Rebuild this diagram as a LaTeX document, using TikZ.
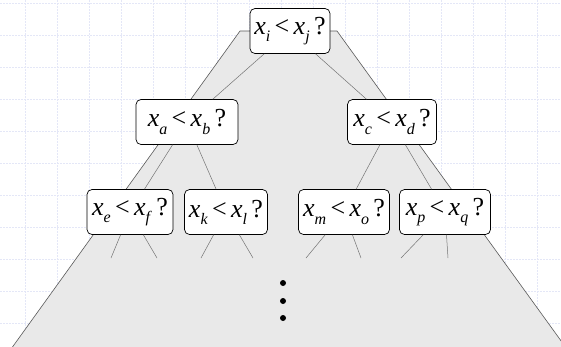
\documentclass[tikz,border=0pt]{standalone}
\usepackage{fontspec}
\setmainfont{Liberation Serif}
\definecolor{gridblue}{RGB}{228,231,247}
\definecolor{treegray}{RGB}{233,233,233}
\newcommand{\xs}[1]{\textit{x}\raisebox{-0.6ex}{\fontsize{16}{16}\selectfont\textit{#1}}}
\newcommand{\cmp}[2]{\xs{#1}\,<\,\xs{#2}\,?}

\begin{document}
\begin{tikzpicture}[x=1pt,y=-1pt,
  gridline/.style={draw=gridblue,line width=0.5pt,dash pattern=on 2pt off 1pt},
  test/.style={draw=black,fill=white,rounded corners=5pt,line width=0.7pt,minimum height=45pt,inner xsep=1pt,font=\fontsize{26}{26}\selectfont},
  branch/.style={draw=gray!90!black,line width=0.5pt}]
\useasboundingbox (0,0) rectangle (561,346);
\begin{scope}
\clip (0,0) rectangle (561,346);
% background grid
\foreach \gx in {25,57,...,537} \draw[gridline] (\gx,0) -- (\gx,346);
\foreach \gy in {3,35,...,323} \draw[gridline] (0,\gy) -- (561,\gy);
% the whole tree
\draw[fill=treegray,draw=gray!70!black,line width=0.6pt] (240,31) -- (6,356) -- (572,356) -- (337,31) -- cycle;
\end{scope}

\node[test,minimum width=80pt] (ij) at (290,31) {\cmp{i}{j}};
\node[test,minimum width=102pt] (ab) at (187,122) {\cmp{a}{b}};
\node[test,minimum width=89pt] (cd) at (392,122) {\cmp{c}{d}};
\node[test,minimum width=86pt] (ef) at (130,212) {\cmp{e}{f}};
\node[test,minimum width=83pt] (kl) at (226,212) {\cmp{k}{l}};
\node[test,minimum width=91pt] (mo) at (344,212) {\cmp{m}{o}};
\node[test,minimum width=91pt] (pq) at (445,212) {\cmp{p}{q}};

\draw[branch] (ij) -- (ab);
\draw[branch] (ij) -- (cd);
\draw[branch] (ab) -- (ef);
\draw[branch] (ab) -- (kl);
\draw[branch] (cd) -- (mo);
\draw[branch] (cd) -- (pq);

% open ends below the last level
\coordinate (ef1) at (111,258);
\coordinate (ef2) at (157,258);
\coordinate (kl1) at (201,258);
\coordinate (kl2) at (253,258);
\coordinate (mo1) at (306,258);
\coordinate (mo2) at (361,258);
\coordinate (pq1) at (401,258);
\coordinate (pq2) at (448,258);
\foreach \n in {ef,kl,mo,pq} {
  \draw[branch] (\n) -- (\n1);
  \draw[branch] (\n) -- (\n2);
}

% dots
\foreach \dy in {283,301,318} \fill (283,\dy) circle (3pt);
\end{tikzpicture}
\end{document}
